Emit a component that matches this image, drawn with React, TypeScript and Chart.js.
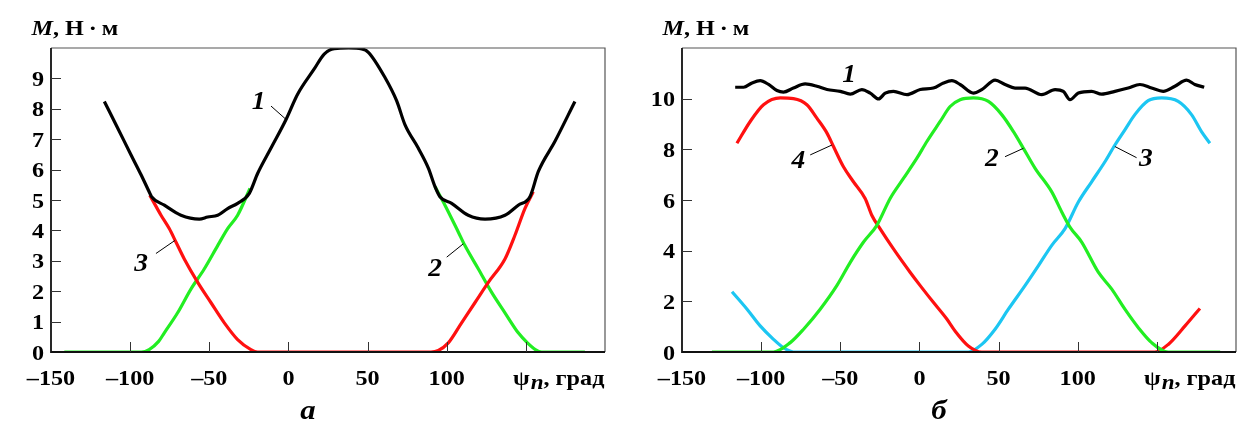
import React, { useEffect, useRef } from 'react';
import { Chart, registerables } from 'chart.js';

Chart.register(...registerables);

const FONT = '"Liberation Serif", "Times New Roman", serif';

// Shared x axis
const X_MIN = -150;
const X_MAX = 200;
const X_TICKS = [-150, -100, -50, 0, 50, 100, 150];
const X_TICK_LABELS = ['\u2013150', '\u2013100', '\u201350', '0', '50', '100', ''];

// Panel а
const A_Y_MAX = 10;
const A_Y_TICKS = [0, 1, 2, 3, 4, 5, 6, 7, 8, 9];

const A_BLACK_X = [-116.3, -107.9, -99.5, -93.1, -88, -86.5, -78.4, -67.9, -56.3, -51, -44.7, -38.4, -32.1, -24.7, -19.4, -11, -1.5, 5.8, 16.3, 22.6, 29, 38, 46.3, 50.5, 61, 68.4, 73.6, 82, 88.4, 92.6, 95.7, 103.1, 113.6, 124.2, 136.8, 145.2, 152.6, 157.9, 168.4, 181];
const A_BLACK_Y = [8.24, 7.37, 6.49, 5.83, 5.27, 5.11, 4.83, 4.5, 4.37, 4.44, 4.5, 4.72, 4.89, 5.22, 5.88, 6.71, 7.65, 8.48, 9.31, 9.8, 9.98, 10.0, 9.97, 9.86, 9.03, 8.26, 7.48, 6.71, 6.05, 5.44, 5.11, 4.89, 4.5, 4.37, 4.5, 4.83, 5.11, 5.94, 6.93, 8.24];

const A_RED_X = [-87.6, -80.5, -75.3, -71, -65.8, -57.3, -48.9, -40.5, -32.1, -23.7, -19.5, 90, 94.7, 101, 109.4, 117.8, 126.3, 136.8, 143.1, 149.4, 154.7];
const A_RED_Y = [5.16, 4.5, 4.06, 3.61, 3.06, 2.29, 1.62, 0.96, 0.41, 0.08, 0, 0, 0.05, 0.3, 0.96, 1.62, 2.29, 3.06, 3.84, 4.72, 5.27];

const A_GREEN_X = [-141.6, -93, -88, -82, -78.4, -70, -61.6, -53.2, -44.7, -38.4, -32.1, -24.3, 30, 92.6, 98.9, 107.3, 111.5, 120, 128.4, 136.8, 145.2, 151, 156, 160, 187.3];
const A_GREEN_Y: (number | null)[] = [0, 0, 0.08, 0.35, 0.63, 1.29, 2.07, 2.73, 3.5, 4.06, 4.5, 5.38, null, 5.44, 4.83, 3.95, 3.5, 2.73, 1.96, 1.29, 0.63, 0.3, 0.08, 0, 0];

// Panel б
const B_Y_MAX = 12;
const B_Y_TICKS = [0, 2, 4, 6, 8, 10];

const B_BLACK_X = [-116.4, -111.1, -105.8, -100.6, -95.3, -90, -85.9, -79.6, -72.2, -64.8, -58.4, -50, -43.7, -36.4, -31.1, -25.8, -21.6, -16.4, -7.9, 0.5, 8.8, 15.2, 20.5, 25.7, 34.1, 39.4, 47.8, 54.1, 60.4, 66.7, 77.3, 85.7, 90.9, 95.1, 100.4, 108.8, 115.1, 123.5, 131.9, 139.3, 146.7, 154, 161.4, 168.8, 174, 179.9];
const B_BLACK_Y = [10.45, 10.45, 10.62, 10.71, 10.56, 10.32, 10.26, 10.42, 10.58, 10.49, 10.36, 10.29, 10.18, 10.36, 10.22, 9.99, 10.22, 10.29, 10.16, 10.36, 10.42, 10.62, 10.71, 10.56, 10.22, 10.36, 10.73, 10.56, 10.42, 10.42, 10.16, 10.36, 10.29, 9.96, 10.22, 10.29, 10.18, 10.29, 10.42, 10.56, 10.42, 10.29, 10.49, 10.73, 10.56, 10.45];

const B_RED_X = [-115.3, -106.9, -98.5, -87.9, -79.6, -71.1, -64.8, -58.4, -54.3, -48, -41.7, -34.3, -30.1, -24.9, -16.4, -5.9, 0.5, 8.8, 17.3, 22.5, 30.9, 39.4, 148.8, 157.2, 167.8, 177.2];
const B_RED_Y = [8.24, 9.1, 9.76, 10.03, 10.0, 9.76, 9.23, 8.64, 8.11, 7.31, 6.72, 6.06, 5.4, 4.87, 4.07, 3.15, 2.62, 1.96, 1.3, 0.83, 0.24, 0, 0, 0.3, 1.03, 1.72];

const B_GREEN_X = [-131.1, -92.2, -81.6, -73.2, -62.7, -52.2, -43.7, -35.3, -26.9, -18.5, -10.1, -1.6, 4.7, 13.1, 19.4, 25.7, 34.1, 43.6, 52, 59.4, 65.7, 73.1, 83.6, 89.9, 95.1, 102.5, 113, 121.4, 129.8, 138.3, 146.7, 157.2, 190];
const B_GREEN_Y = [0, 0, 0.37, 0.9, 1.69, 2.62, 3.54, 4.34, 5.0, 6.06, 6.85, 7.65, 8.31, 9.1, 9.69, 9.96, 10.03, 9.89, 9.37, 8.7, 8.04, 7.25, 6.32, 5.53, 4.93, 4.34, 3.15, 2.49, 1.69, 0.96, 0.37, 0, 0];

const B_CYAN_X = [-118.4, -108.9, -100.6, -92.2, -85.9, -79.6, 30.9, 39.4, 47.8, 56.2, 66.7, 75.2, 83.6, 92, 100.4, 108.8, 117.2, 123.5, 129.8, 136.1, 144.5, 153, 163.5, 171.9, 178.2, 183.5];
const B_CYAN_Y = [2.38, 1.69, 1.03, 0.5, 0.17, 0, 0, 0.3, 0.9, 1.69, 2.62, 3.41, 4.21, 4.87, 5.92, 6.72, 7.51, 8.17, 8.77, 9.37, 9.92, 10.03, 9.89, 9.37, 8.7, 8.24];

// Curve number labels: [text, x, y, leaderX1, leaderY1, leaderX2, leaderY2] in data units
type Note = [string, number, number, number | null, number | null, number | null, number | null];
const A_NOTES: Note[] = [
  ['1', -18.9, 8.29, -11, 8.09, -1.5, 7.65],
  ['3', -93.1, 2.95, -83.7, 3.24, -71.7, 3.67],
  ['2', 92.6, 2.79, 100, 3.12, 110.5, 3.56],
];
const B_NOTES: Note[] = [
  ['1', -44.4, 11.02, null, null, null, null],
  ['4', -76.4, 7.61, -69, 7.78, -55.3, 8.17],
  ['2', 45.7, 7.68, 54.1, 7.71, 65.7, 8.04],
  ['3', 143, 7.68, 123.5, 8.11, 137.2, 7.67],
];

const COLORS = {
  black: '#000000',
  red: '#ff1010',
  green: '#22ee22',
  cyan: '#1cc6f2',
};

const SX = 1.1; // horizontal stretch of the lettering

function pts(xs: number[], ys: (number | null)[]) {
  return xs.map((x, i) => ({ x, y: ys[i] }));
}

function ds(xs: number[], ys: (number | null)[], color: string) {
  return {
    data: pts(xs, ys),
    borderColor: color,
    backgroundColor: color,
    borderWidth: 3.2,
    pointRadius: 0,
    cubicInterpolationMode: 'monotone' as const,
    spanGaps: false,
    fill: false,
  };
}

type Spec = {
  left: number;
  width: number;
  yWidth: number;
  padRight: number;
  yMax: number;
  yTicks: number[];
  datasets: any[];
  notes: Note[];
  sub: string;
};

const SPECS: Spec[] = [
  {
    left: 0,
    width: 620,
    yWidth: 51,
    padRight: 15,
    yMax: A_Y_MAX,
    yTicks: A_Y_TICKS,
    datasets: [
      ds(A_BLACK_X, A_BLACK_Y, COLORS.black),
      ds(A_RED_X, A_RED_Y, COLORS.red),
      ds(A_GREEN_X, A_GREEN_Y, COLORS.green),
    ],
    notes: A_NOTES,
    sub: '\u0430',
  },
  {
    left: 620,
    width: 621,
    yWidth: 62,
    padRight: 5,
    yMax: B_Y_MAX,
    yTicks: B_Y_TICKS,
    datasets: [
      ds(B_BLACK_X, B_BLACK_Y, COLORS.black),
      ds(B_GREEN_X, B_GREEN_Y, COLORS.green),
      ds(B_RED_X, B_RED_Y, COLORS.red),
      ds(B_CYAN_X, B_CYAN_Y, COLORS.cyan),
    ],
    notes: B_NOTES,
    sub: '\u0431',
  },
];

// draws text stretched horizontally by SX; returns advance width (stretched)
function txt(ctx: CanvasRenderingContext2D, s: string, x: number, y: number, font: string, align: 'left' | 'right' | 'center' = 'left') {
  ctx.font = font;
  const w = ctx.measureText(s).width * SX;
  let lx = x;
  if (align === 'right') lx = x - w;
  else if (align === 'center') lx = x - w / 2;
  ctx.save();
  ctx.translate(lx, y);
  ctx.scale(SX, 1);
  ctx.textAlign = 'left';
  ctx.fillText(s, 0, 0);
  ctx.restore();
  return w;
}

function decorPlugin(spec: Spec) {
  return {
    id: 'decor',
    afterDraw(chart: any) {
      const ctx: CanvasRenderingContext2D = chart.ctx;
      const { left, right, top, bottom } = chart.chartArea;
      const xs = chart.scales.x;
      const ys = chart.scales.y;
      ctx.save();
      // frame
      ctx.strokeStyle = '#555';
      ctx.lineWidth = 1.2;
      ctx.beginPath();
      ctx.moveTo(left, top);
      ctx.lineTo(right, top);
      ctx.lineTo(right, bottom);
      ctx.stroke();
      ctx.strokeStyle = '#111';
      ctx.lineWidth = 1.8;
      ctx.beginPath();
      ctx.moveTo(left, top);
      ctx.lineTo(left, bottom);
      ctx.lineTo(right, bottom);
      ctx.stroke();
      // inward ticks
      ctx.strokeStyle = '#333';
      ctx.lineWidth = 1;
      ctx.beginPath();
      X_TICKS.forEach((v) => {
        if (v === X_MIN) return;
        const px = Math.round(xs.getPixelForValue(v)) + 0.5;
        ctx.moveTo(px, bottom);
        ctx.lineTo(px, bottom - 10);
      });
      spec.yTicks.forEach((v) => {
        if (v === 0) return;
        const py = Math.round(ys.getPixelForValue(v)) + 0.5;
        ctx.moveTo(left, py);
        ctx.lineTo(left + 10, py);
      });
      ctx.stroke();

      ctx.fillStyle = '#000';
      ctx.textBaseline = 'alphabetic';
      const tickFont = `bold 22px ${FONT}`;
      // y tick labels
      spec.yTicks.forEach((v) => {
        txt(ctx, String(v), left - 7, ys.getPixelForValue(v) + 7.5, tickFont, 'right');
      });
      // x tick labels
      X_TICKS.forEach((v, i) => {
        const l = X_TICK_LABELS[i];
        if (l) txt(ctx, l, xs.getPixelForValue(v), 385, tickFont, 'center');
      });

      // y title: M, Н·м
      let tx = left - 19.5;
      const ty = 35;
      tx += txt(ctx, 'M', tx, ty, `italic bold 22px ${FONT}`);
      txt(ctx, ', \u041D\u2009\u00B7\u2009\u043C', tx, ty, `bold 22px ${FONT}`);

      // x title: ψn, град
      let ux = right - 92;
      const uy = 385;
      ux += txt(ctx, '\u03C8', ux, uy, `bold 22px ${FONT}`) + 1;
      ux += txt(ctx, 'n', ux, uy + 4, `italic bold 21px ${FONT}`);
      txt(ctx, ', \u0433\u0440\u0430\u0434', ux, uy, `bold 22px ${FONT}`);

      // subtitle
      txt(ctx, spec.sub, (left + right) / 2 - 20, 419, `italic bold 28px ${FONT}`, 'center');

      // curve notes
      spec.notes.forEach((n) => {
        const [t, x, y, x1, y1, x2, y2] = n;
        txt(ctx, t, xs.getPixelForValue(x), ys.getPixelForValue(y) + 9, `italic bold 25px ${FONT}`, 'center');
        if (x1 !== null && y1 !== null && x2 !== null && y2 !== null) {
          ctx.strokeStyle = '#000';
          ctx.lineWidth = 1;
          ctx.beginPath();
          ctx.moveTo(xs.getPixelForValue(x1), ys.getPixelForValue(y1));
          ctx.lineTo(xs.getPixelForValue(x2), ys.getPixelForValue(y2));
          ctx.stroke();
        }
      });
      ctx.restore();
    },
  };
}

function Panel({ spec }: { spec: Spec }) {
  const ref = useRef<HTMLCanvasElement>(null);
  useEffect(() => {
    const chart = new Chart(ref.current as HTMLCanvasElement, {
      type: 'line',
      data: { datasets: spec.datasets },
      options: {
        animation: false,
        responsive: false,
        events: [],
        layout: { padding: { left: 0, right: spec.padRight, top: 48, bottom: 0 } },
        plugins: { legend: { display: false }, tooltip: { enabled: false } },
        scales: {
          x: {
            type: 'linear',
            min: X_MIN,
            max: X_MAX,
            grid: { display: false },
            border: { display: false },
            afterBuildTicks: (s: any) => {
              s.ticks = X_TICKS.map((v) => ({ value: v }));
            },
            afterFit: (s: any) => {
              s.height = 70;
            },
            ticks: { display: false },
          },
          y: {
            type: 'linear',
            min: 0,
            max: spec.yMax,
            grid: { display: false },
            border: { display: false },
            afterBuildTicks: (s: any) => {
              s.ticks = spec.yTicks.map((v) => ({ value: v }));
            },
            afterFit: (s: any) => {
              s.width = spec.yWidth;
            },
            ticks: { display: false },
          },
        },
      },
      plugins: [decorPlugin(spec)],
    } as any);
    return () => chart.destroy();
  }, [spec]);
  return (
    <canvas
      ref={ref}
      width={spec.width}
      height={422}
      style={{ position: 'absolute', left: spec.left, top: 0, width: spec.width, height: 422 }}
    />
  );
}

export default function App() {
  return (
    <div style={{ position: 'absolute', left: 0, top: 0, width: 1241, height: 422, background: '#fff', overflow: 'hidden' }}>
      {SPECS.map((s, i) => (
        <Panel key={i} spec={s} />
      ))}
    </div>
  );
}
